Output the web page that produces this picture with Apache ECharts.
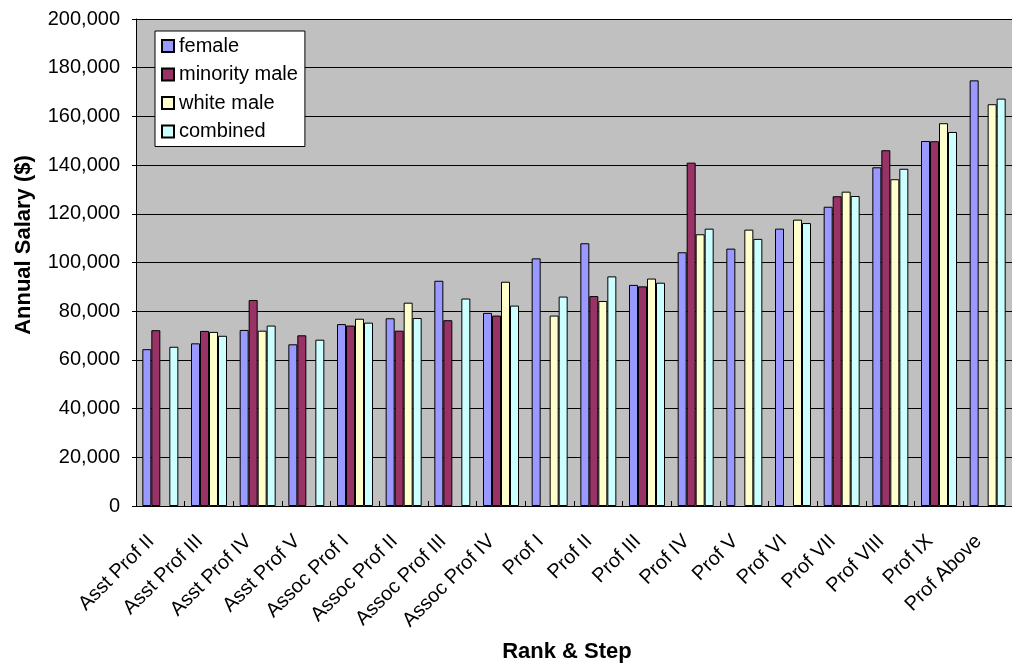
<!DOCTYPE html>
<html>
<head>
<meta charset="utf-8">
<title>Annual Salary by Rank &amp; Step</title>
<script src="https://cdn.jsdelivr.net/npm/echarts@6/dist/echarts.min.js"></script>
<style>
  html, body { margin: 0; padding: 0; background: #ffffff; }
  #chart { width: 1012px; height: 670px; }
</style>
</head>
<body>
<div id="chart"></div>
<script>
// Rank & step categories along the x axis
const categories = [
  'Asst Prof II', 'Asst Prof III', 'Asst Prof IV', 'Asst Prof V',
  'Assoc Prof I', 'Assoc Prof II', 'Assoc Prof III', 'Assoc Prof IV',
  'Prof I', 'Prof II', 'Prof III', 'Prof IV', 'Prof V', 'Prof VI',
  'Prof VII', 'Prof VIII', 'Prof IX', 'Prof Above'
];

// Mean annual salary ($) per group; null where a group has no one at that step
const female = [
  64400, 66800, 72300, 66400, 74700, 77100, 92500, 79300, 101700,
  107900, 90800, 104200, 105700, 113900, 122900, 139100, 149900, 174800
];
const minorityMale = [
  72200, 71900, 84600, 70100, 74100, 72000, 76300, 78200, null,
  86200, 90200, 141000, null, null, 127200, 146100, 149800, null
];
const whiteMale = [
  null, 71500, 72000, null, 76900, 83500, null, 92100, 78200,
  84200, 93400, 111600, 113500, 117600, 129100, 134200, 157200, 165000
];
const combined = [
  65400, 69900, 74100, 68300, 75300, 77200, 85200, 82300, 86000,
  94300, 91700, 113900, 109700, 116200, 127300, 138500, 153600, 167300
];

// y axis scale
const yMin = 0;
const yMax = 200000;
const yStep = 20000;

const seriesDefs = [
  { name: 'female', data: female, color: '#9999FF' },
  { name: 'minority male', data: minorityMale, color: '#993366' },
  { name: 'white male', data: whiteMale, color: '#FFFFCC' },
  { name: 'combined', data: combined, color: '#CCFFFF' }
];

const FONT = 'Arial, "Liberation Sans", sans-serif';

const chart = echarts.init(document.getElementById('chart'), null, { renderer: 'canvas' });

chart.setOption({
  animation: false,
  backgroundColor: '#ffffff',
  textStyle: { fontFamily: FONT },
  grid: {
    left: 136,
    top: 19,
    width: 885.5,
    height: 487,
    show: true,
    backgroundColor: '#C0C0C0',
    borderWidth: 0,
    containLabel: false
  },
  legend: {
    orient: 'vertical',
    left: 155,
    top: 31,
    padding: [5, 7, 5, 6],
    itemWidth: 12,
    itemHeight: 12,
    itemGap: 8.5,
    backgroundColor: '#ffffff',
    borderColor: '#000000',
    borderWidth: 1,
    borderRadius: 0,
    icon: 'rect',
    textStyle: { fontFamily: FONT, fontSize: 20, lineHeight: 20, color: '#000000' },
    data: seriesDefs.map(s => s.name)
  },
  xAxis: {
    type: 'category',
    data: categories,
    boundaryGap: true,
    axisLine: { show: true, lineStyle: { color: '#000000', width: 1 } },
    axisTick: { show: true, inside: true, length: 5, alignWithLabel: false, lineStyle: { color: '#000000' } },
    axisLabel: {
      interval: 0,
      rotate: 45,
      margin: 23,
      padding: [0, 13, 0, 0],
      fontFamily: FONT,
      fontSize: 20,
      color: '#000000'
    },
    splitLine: { show: false }
  },
  yAxis: {
    type: 'value',
    min: yMin,
    max: yMax,
    interval: yStep,
    axisLine: { show: true, lineStyle: { color: '#000000', width: 1 } },
    axisTick: { show: true, inside: false, length: 4, lineStyle: { color: '#000000' } },
    axisLabel: {
      margin: 16,
      fontFamily: FONT,
      fontSize: 20,
      color: '#000000',
      formatter: v => v.toLocaleString('en-US')
    },
    splitLine: { show: true, lineStyle: { color: '#000000', width: 1 } }
  },
  graphic: [
    {
      type: 'text',
      x: 24,
      y: 245,
      rotation: Math.PI / 2,
      style: {
        text: 'Annual Salary ($)',
        fontFamily: FONT,
        fontSize: 22,
        fontWeight: 'bold',
        fill: '#000000',
        align: 'center',
        verticalAlign: 'middle'
      }
    },
    {
      type: 'text',
      x: 567,
      y: 652,
      style: {
        text: 'Rank & Step',
        fontFamily: FONT,
        fontSize: 22,
        fontWeight: 'bold',
        fill: '#000000',
        align: 'center',
        verticalAlign: 'middle'
      }
    }
  ],
  series: seriesDefs.map(s => ({
    type: 'bar',
    name: s.name,
    data: s.data,
    barWidth: 9,
    barGap: '0%',
    itemStyle: { color: s.color, borderColor: '#000000', borderWidth: 1 },
    emphasis: { disabled: true }
  }))
});
</script>
</body>
</html>
